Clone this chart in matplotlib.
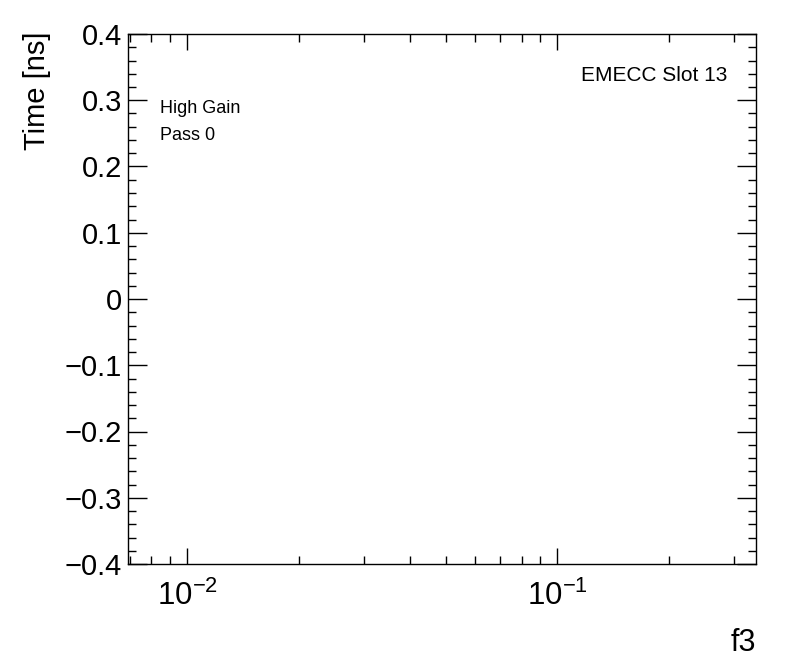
import numpy as np
import matplotlib
matplotlib.use("Agg")
import matplotlib.pyplot as plt
from matplotlib.ticker import LogLocator, MultipleLocator, FuncFormatter

plt.rcParams['font.family'] = ['Liberation Sans', 'DejaVu Sans']
plt.rcParams['mathtext.fontset'] = 'custom'
plt.rcParams['mathtext.rm'] = 'Liberation Sans'
plt.rcParams['mathtext.it'] = 'Liberation Sans:italic'
plt.rcParams['mathtext.bf'] = 'Liberation Sans:bold'

# axis ranges / labels (empty histogram frame)
x_range = [0.0069, 0.344]
y_range = [-0.4, 0.4]
x_label = "f3"
y_label = "Time [ns]"
info_left = ["High Gain", "Pass 0"]
info_right = "EMECC Slot 13"
# no entries in this plot
x_vals = []
y_vals = []

fig = plt.figure(figsize=(7.96, 6.72), dpi=100)
ax = fig.add_axes([127.7/796, 1-564/672, (756-127.7)/796, (564-34)/672])
ax.plot(x_vals, y_vals, 'k.')
ax.set_xscale('log')
ax.set_xlim(x_range)
ax.set_ylim(y_range)

for s in ax.spines.values():
    s.set_linewidth(1.0)

ax.xaxis.set_major_locator(LogLocator(base=10))
ax.xaxis.set_minor_locator(LogLocator(base=10, subs=np.arange(2, 10)))
ax.yaxis.set_major_locator(MultipleLocator(0.1))
ax.yaxis.set_minor_locator(MultipleLocator(0.02))
ax.yaxis.set_major_formatter(FuncFormatter(
    lambda v, p: "0" if abs(v) < 1e-9 else f"{v:.1f}".replace("-", "\u2212")))

ax.tick_params(which='both', direction='in', top=True, right=True, width=1.0,
               labelsize=21)
ax.tick_params(axis='x', which='major', length=11.5, pad=12, labelsize=22.5)
ax.tick_params(axis='x', which='minor', length=5.8)
ax.tick_params(axis='y', which='major', length=13.7, pad=4)
ax.tick_params(axis='y', which='minor', length=6)

fig.text(37/796, 1-32/672, y_label, rotation=90, ha='center', va='top', fontsize=21)
fig.text(756/796, 1-651/672, x_label, ha='right', va='baseline', fontsize=22)

ax.text(0.0514, 0.851, info_left[0], transform=ax.transAxes, fontsize=13, va='baseline')
ax.text(0.0514, 0.800, info_left[1], transform=ax.transAxes, fontsize=13, va='baseline')
ax.text(0.955, 0.911, info_right, transform=ax.transAxes, fontsize=15, va='baseline', ha='right')

fig.savefig("out.png", dpi=100)
